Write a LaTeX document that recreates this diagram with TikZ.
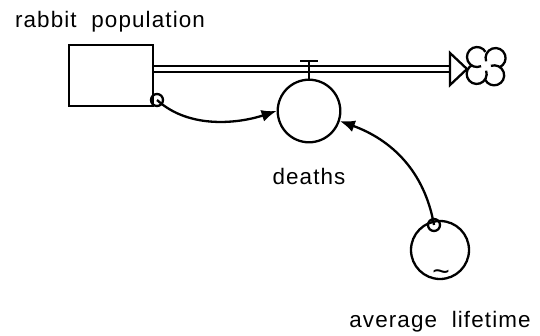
\documentclass[tikz,border=0pt]{standalone}
\usepackage{fontspec}
\setmainfont{Liberation Sans}[LetterSpace=5]
\usetikzlibrary{arrows.meta}

\begin{document}
\begin{tikzpicture}[x=1bp,y=1bp,line width=2.3bp,
  font=\fontsize{22.5}{26}\selectfont,
  aux/.style={draw,circle,inner sep=0pt,minimum size=62.6bp},
  ring/.style={draw,circle,inner sep=0pt,minimum size=12bp},
  link/.style={-{Latex[length=15bp,width=12bp]}},
  pipe/.style={double,double distance=3.8bp}]
\useasboundingbox (0,0) rectangle (540,335);
% stock
\node[draw,minimum width=84bp,minimum height=61bp,inner sep=0pt] (stock) at (111,259.5) {};
\node[anchor=base] (stocklbl) at (110,308) {rabbit\ \ population};
% flow pipe
\coordinate (pipeL) at (154,266);
\coordinate (pipeR) at (451,266);
\draw[pipe] (pipeL) -- (pipeR);
\draw[fill=white] (450,282) -- (467,266) -- (450,250) -- cycle;
% cloud
\draw (481.07,268.86) arc[start angle=294.2, delta angle=-263.4, radius=10];
\draw (486.12,273.68) arc[start angle=199.2, delta angle=-263.4, radius=10];
\draw (490.88,269.12) arc[start angle=109.2, delta angle=-263.4, radius=10];
\draw (486.12,264.32) arc[start angle=19.2, delta angle=-263.4, radius=10];
% valve and rate
\node[aux] (deaths) at (309,224) {};
\coordinate (valve) at (309,274);
\draw (deaths.north) -- (valve);
\draw (300,274) -- (318,274);
\node[anchor=base] (deathslbl) at (309,151) {deaths};
% converter
\node[aux,minimum size=58bp] (life) at (440,85) {};
\node[font=\fontsize{30}{30}\selectfont] (tilde) at (441,59) {\textasciitilde};
\node[anchor=base] (lifelbl) at (440,8) {average\ \ lifetime};
% connectors
\node[ring] (r1) at (157,235) {};
\node[ring] (r2) at (434,110) {};
\draw[link] (r1.center) .. controls (190,205) and (240,212) .. (deaths.west);
\draw[link] (r2.center) to[out=100,in=-20] (deaths.-18);
\end{tikzpicture}
\end{document}
